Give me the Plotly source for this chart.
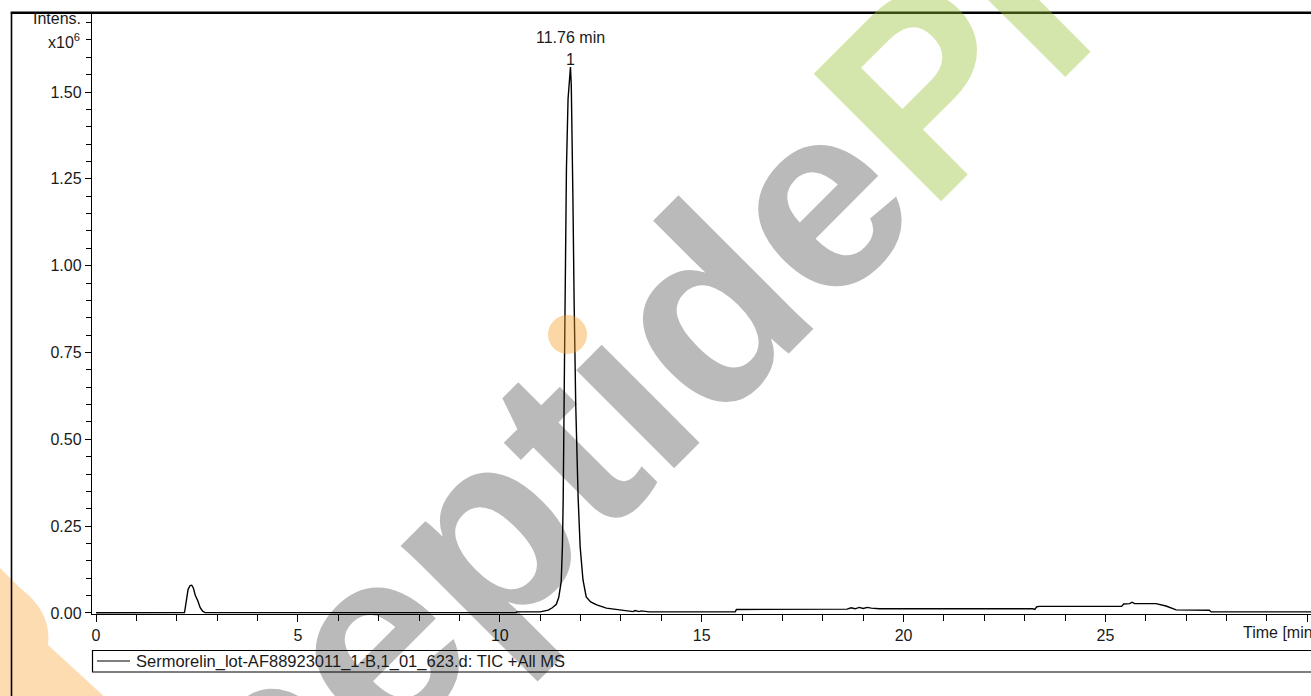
import plotly.graph_objects as go

# ---- data (time in min, intensity in 1e6 counts) ----
time_min = [0.0, 2.15, 2.19, 2.21, 2.24, 2.28, 2.33, 2.37, 2.41, 2.46, 2.52, 2.58, 2.64, 2.70,
            10.40, 10.42, 11.00, 11.20, 11.30, 11.40, 11.46, 11.52, 11.55, 11.57, 11.60, 11.62,
            11.65, 11.69, 11.73, 11.75, 11.77, 11.79, 11.81, 11.84, 11.88, 11.94, 11.99, 12.06,
            12.14, 12.25, 12.40, 12.64, 12.90, 13.20, 13.30, 13.35, 13.45, 13.50, 13.60, 13.70,
            15.83, 15.86, 18.60, 18.70, 18.80, 18.90, 19.00, 19.10, 19.20, 19.37, 19.40,
            23.20, 23.25, 23.30, 23.37, 25.40, 25.45, 25.60, 25.66, 25.72, 26.25, 26.50,
            26.75, 27.57, 27.62, 30.09]
intensity = [0.0005, 0.0005, 0.001, 0.015, 0.040, 0.068, 0.079, 0.080, 0.072, 0.050, 0.035, 0.015, 0.005, 0.001,
             0.001, 0.003, 0.003, 0.008, 0.015, 0.025, 0.045, 0.090, 0.190, 0.330, 0.700, 0.900,
             1.280, 1.480, 1.565, 1.572, 1.520, 1.400, 1.200, 0.900, 0.600, 0.330, 0.190, 0.095,
             0.046, 0.032, 0.023, 0.014, 0.010, 0.007, 0.004, 0.007, 0.004, 0.006, 0.005, 0.003,
             0.003, 0.010, 0.011, 0.015, 0.012, 0.016, 0.013, 0.016, 0.014, 0.012, 0.012,
             0.012, 0.010, 0.018, 0.019, 0.019, 0.026, 0.027, 0.031, 0.027, 0.027, 0.020,
             0.009, 0.008, 0.003, 0.003]

x_tick_vals = [0, 5, 10, 15, 20, 25, 30]
x_tick_text = ["0", "5", "10", "15", "20", "25", " "]
y_tick_vals = [0.0, 0.25, 0.50, 0.75, 1.00, 1.25, 1.50]
y_tick_text = ["0.00", "0.25", "0.50", "0.75", "1.00", "1.25", "1.50"]

peak_time = 11.76
peak_label = "11.76 min"
peak_number = "1"
legend_text = "Sermorelin_lot-AF88923011_1-B,1_01_623.d: TIC +All MS"

# ---- geometry helpers (pixel -> paper) ----
W, H = 1311, 696
ML, MR, MT, MB = 92, 0, 13, 82
PW, PH = W - ML - MR, H - MT - MB


def px(x):
    return (x - ML) / PW


def py(y):
    return (H - MB - y) / PH


FONT = "Liberation Sans, Arial, sans-serif"
TXT = "#1a1a1a"
FS = 16

fig = go.Figure()
fig.add_trace(go.Scatter(x=time_min, y=intensity, mode="lines",
                         line=dict(color="black", width=1.4),
                         showlegend=False, hoverinfo="x+y"))

shapes = []
# orange logo fragment (watermark) bottom-left
shapes.append(dict(type="path", xref="paper", yref="paper", layer="below",
                   path=f"M {px(0)},{py(568)} L {px(20)},{py(588)} Q {px(52)},{py(612)} {px(48)},{py(645)} "
                        f"L {px(108)},{py(700)} L {px(0)},{py(700)} Z",
                   fillcolor="#fcdcb0", line=dict(width=0)))
# orange dot (watermark)
shapes.append(dict(type="circle", xref="paper", yref="paper", layer="above",
                   x0=px(548), x1=px(587), y0=py(315), y1=py(354),
                   fillcolor="rgba(245,155,30,0.40)", line=dict(width=0)))
# outer frame lines
shapes.append(dict(type="line", xref="paper", yref="paper", x0=px(11.5), x1=px(11.5),
                   y0=py(12.5), y1=py(700), line=dict(color="black", width=1.6)))
shapes.append(dict(type="line", xref="paper", yref="paper", x0=px(10.7), x1=px(1315),
                   y0=py(12.8), y1=py(12.8), line=dict(color="black", width=2.4)))
# legend box
shapes.append(dict(type="rect", xref="paper", yref="paper", x0=px(92.5), x1=px(1320),
                   y0=py(672), y1=py(650.5), line=dict(color="black", width=1.2),
                   fillcolor="rgba(0,0,0,0)"))
shapes.append(dict(type="line", xref="paper", yref="paper", x0=px(97), x1=px(130),
                   y0=py(661), y1=py(661), line=dict(color="black", width=1.2)))

annotations = []
# watermark text
annotations.append(dict(xref="paper", yref="paper", x=px(690), y=py(325),
                        xanchor="center", yanchor="middle", showarrow=False, textangle=-45,
                        text="<span style='color:rgba(0,0,0,0.27)'>peptıde</span>"
                             "<span style='color:rgba(150,192,50,0.40)'>Pro</span>",
                        font=dict(family=FONT, size=262, weight="bold")))
annotations += [
    dict(xref="paper", yref="paper", x=px(83), y=py(19), xanchor="right", yanchor="middle",
         text="Intens.", showarrow=False, font=dict(family=FONT, size=FS, color=TXT)),
    dict(xref="paper", yref="paper", x=px(82), y=py(41), xanchor="right", yanchor="middle",
         text="x10<sup>6</sup>", showarrow=False, font=dict(family=FONT, size=FS, color=TXT)),
    dict(xref="x", yref="paper", x=peak_time, y=py(37.5), xanchor="center", yanchor="middle",
         text=peak_label, showarrow=False, font=dict(family=FONT, size=FS, color=TXT)),
    dict(xref="x", yref="paper", x=peak_time, y=py(59), xanchor="center", yanchor="middle",
         text=peak_number, showarrow=False, font=dict(family=FONT, size=FS, color=TXT)),
    dict(xref="paper", yref="paper", x=px(1241), y=py(632), xanchor="left", yanchor="middle",
         text="Time [min]", showarrow=False, font=dict(family=FONT, size=FS, color=TXT)),
    dict(xref="paper", yref="paper", x=px(134), y=py(661), xanchor="left", yanchor="middle",
         text=legend_text, showarrow=False, font=dict(family=FONT, size=16.5, color=TXT)),
]

fig.update_layout(
    width=W, height=H, autosize=False,
    margin=dict(l=ML, r=MR, t=MT, b=MB, pad=0),
    paper_bgcolor="white", plot_bgcolor="rgba(0,0,0,0)",
    font=dict(family=FONT, size=FS, color=TXT),
    shapes=shapes, annotations=annotations, showlegend=False,
    xaxis=dict(range=[-0.1, 30.09], showgrid=False, zeroline=False,
               showline=True, linecolor="black", linewidth=1.4,
               ticks="outside", ticklen=7, tickwidth=1, tickcolor="black",
               tickmode="array", tickvals=x_tick_vals, ticktext=x_tick_text,
               tickfont=dict(family=FONT, size=FS, color=TXT),
               minor=dict(tickmode="linear", tick0=0, dtick=1, ticks="outside",
                          ticklen=6, tickwidth=1, tickcolor="black", showgrid=False)),
    yaxis=dict(range=[-0.003, 1.7276], showgrid=False, zeroline=False,
               showline=True, linecolor="black", linewidth=1.4,
               ticks="outside", ticklen=6, tickwidth=1, tickcolor="black",
               tickmode="array", tickvals=y_tick_vals, ticktext=y_tick_text,
               tickfont=dict(family=FONT, size=FS, color=TXT),
               minor=dict(tickmode="linear", tick0=0, dtick=0.05, ticks="outside",
                          ticklen=5, tickwidth=1, tickcolor="black", showgrid=False)),
)

fig.write_html("out.html", config={"displayModeBar": False},
               post_script="document.body.style.margin='0';")
